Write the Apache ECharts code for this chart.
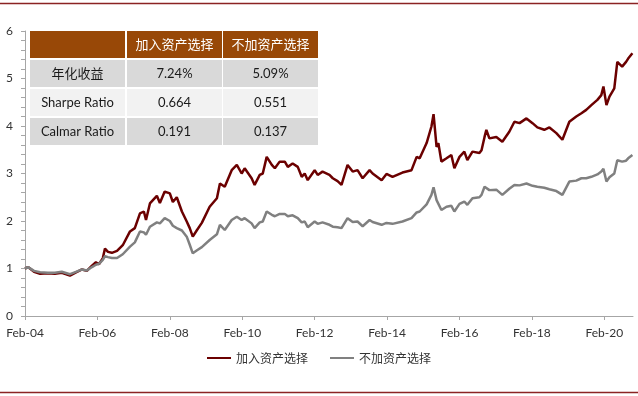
<!DOCTYPE html>
<html>
<head>
<meta charset="utf-8">
<script src="https://cdn.jsdelivr.net/npm/echarts@6/dist/echarts.min.js"></script>
<style>
html,body{margin:0;padding:0;background:#fff;}
#chart{width:638px;height:396px;}
</style>
</head>
<body>
<div id="chart"></div>
<script>
// months since Feb-2004
const months = [0,1.0,3.0,5.0,7.6,9.9,12.2,14.9,16.9,18.9,20.5,22.2,23.5,24.5,25.8,26.5,27.5,28.8,30.5,32.4,34.8,36.4,38.1,39.4,40.1,41.4,43.7,44.7,46.3,48.0,49.0,50.3,52.0,53.6,54.6,55.6,56.9,58.6,61.2,63.6,64.6,66.2,68.5,70.2,71.8,72.8,75.1,76.1,77.8,78.8,80.1,81.8,82.8,84.4,86.1,87.1,88.7,90.4,91.7,92.7,93.7,96.0,97.0,98.6,100.9,102.0,103.6,104.9,106.9,108.6,110.2,111.9,114.2,115.2,118.2,119.8,121.8,125.1,128.1,129.8,130.8,133.1,134.7,135.4,136.4,137.0,138.0,139.7,141.3,142.3,144.0,145.6,146.6,148.3,150.6,151.3,152.3,152.9,153.9,156.2,158.2,160.5,162.2,163.9,166.2,168.2,169.8,172.1,173.8,176.1,178.1,180.4,182.7,184.4,186.0,187.7,189.7,191.0,191.7,192.7,193.7,195.3,196.3,196.9,197.9,199.2,199.9,201.3];
const withSelection = [1.00,1.03,0.93,0.89,0.90,0.89,0.91,0.85,0.92,0.98,0.95,1.06,1.13,1.09,1.22,1.42,1.35,1.33,1.37,1.49,1.78,1.85,2.16,2.20,2.02,2.37,2.53,2.38,2.62,2.58,2.40,2.50,2.20,1.99,1.85,1.67,1.80,1.96,2.30,2.48,2.79,2.72,3.07,3.18,3.00,3.11,2.90,2.76,2.97,3.00,3.35,3.18,3.11,3.25,3.25,3.14,3.21,3.14,2.93,3.00,2.86,3.07,2.97,3.04,2.97,2.90,2.84,2.76,3.18,3.04,3.07,2.90,3.07,3.00,2.86,2.99,2.93,3.02,3.07,3.35,3.32,3.64,3.99,4.25,3.56,3.64,3.25,3.32,3.39,3.11,3.35,3.46,3.28,3.46,3.43,3.49,3.77,3.92,3.74,3.77,3.67,3.88,4.09,4.06,4.16,4.06,3.97,3.92,3.97,3.85,3.71,4.09,4.20,4.27,4.34,4.44,4.55,4.65,4.83,4.44,4.62,4.79,5.35,5.32,5.25,5.35,5.42,5.53];
const withoutSelection = [1.00,1.03,0.95,0.92,0.91,0.91,0.93,0.88,0.93,0.98,0.96,1.03,1.08,1.10,1.18,1.26,1.24,1.22,1.22,1.30,1.46,1.55,1.78,1.76,1.71,1.88,1.97,1.95,2.06,2.00,1.90,1.85,1.80,1.67,1.50,1.32,1.38,1.45,1.60,1.72,1.92,1.81,2.02,2.09,2.02,2.06,1.95,1.85,1.97,1.99,2.20,2.13,2.10,2.15,2.15,2.10,2.12,2.06,1.97,1.99,1.87,1.99,1.94,1.97,1.92,1.88,1.87,1.85,2.06,1.98,1.99,1.89,2.02,1.98,1.92,1.96,1.94,1.99,2.06,2.18,2.20,2.35,2.55,2.71,2.44,2.46,2.23,2.30,2.32,2.20,2.36,2.41,2.34,2.48,2.50,2.55,2.72,2.74,2.65,2.66,2.55,2.68,2.76,2.75,2.79,2.74,2.72,2.70,2.67,2.63,2.55,2.83,2.85,2.90,2.90,2.93,2.98,3.04,3.10,2.83,2.92,3.00,3.28,3.30,3.25,3.27,3.32,3.39];
const seriesNames = ['加入资产选择','不加资产选择'];
const tableHeader = ['', '加入资产选择', '不加资产选择'];
const tableRows = [
  ['年化收益','7.24%','5.09%'],
  ['Sharpe Ratio','0.664','0.551'],
  ['Calmar Ratio','0.191','0.137']
];

const chart = echarts.init(document.getElementById('chart'));
const latin = 'Lato, "Noto Sans CJK SC", sans-serif';
const cjk = '"Noto Sans CJK SC", sans-serif';

// table graphic
const colX = [30,127,223], colW = [95,95,95];
const rowY = [31,60,89,118], rowH = 27;
const rowFill = ['#984807','#D9D9D9','#F2F2F2','#D9D9D9'];
const tableEls = [];
const allRows = [tableHeader].concat(tableRows);
allRows.forEach((row,r)=>{
  row.forEach((txt,c)=>{
    tableEls.push({type:'rect',shape:{x:colX[c],y:rowY[r],width:colW[c],height:rowH},style:{fill:rowFill[r]},z:10});
    if(txt){
      const isCjk = /[\u4e00-\u9fff]/.test(txt);
      tableEls.push({type:'text',x:colX[c]+colW[c]/2,y:rowY[r]+rowH/2,z:11,
        style:{text:txt,fill:r===0?'#ffffff':'#1a1a1a',font:(isCjk?'13px '+cjk:'13px '+latin),align:'center',verticalAlign:'middle'}});
    }
  });
});
tableEls.push({type:'line',shape:{x1:0,y1:3.5,x2:638,y2:3.5},style:{stroke:'#8B2323',lineWidth:1.5},z:10});
tableEls.push({type:'line',shape:{x1:0,y1:392.5,x2:638,y2:392.5},style:{stroke:'#8B2323',lineWidth:1.5},z:10});

function pairs(vals){ return months.map((m,i)=>[m, vals[i]]); }

chart.setOption({
  animation:false,
  backgroundColor:'#ffffff',
  grid:{left:25,right:5,top:31,bottom:80,containLabel:false},
  legend:{
    data:seriesNames, bottom:27, left:'center',
    icon:'rect', itemWidth:24, itemHeight:2, itemGap:22,
    textStyle:{fontFamily:cjk,fontSize:12,color:'#333'}
  },
  xAxis:{
    type:'value', min:0, max:201.5, interval:24,
    axisLine:{lineStyle:{color:'#A6A6A6',width:1}},
    axisTick:{show:true,length:4,lineStyle:{color:'#A6A6A6'}},
    splitLine:{show:false},
    axisLabel:{color:'#333',fontFamily:latin,fontSize:12,margin:11,
      showMaxLabel:false,
      formatter:function(v){ const y = 2004 + Math.round(v/12); return 'Feb-' + String(y).slice(2); }}
  },
  yAxis:{
    type:'value', min:0, max:6, interval:1,
    axisLine:{show:true,lineStyle:{color:'#A6A6A6',width:1}},
    axisTick:{show:true,length:4,lineStyle:{color:'#A6A6A6'}},
    minorTick:{show:true,splitNumber:5,length:4,lineStyle:{color:'#A6A6A6'}},
    splitLine:{show:false},
    axisLabel:{color:'#333',fontFamily:latin,fontSize:12,margin:12}
  },
  series:[
    {name:seriesNames[0],type:'line',data:pairs(withSelection),showSymbol:false,symbol:'none',
     lineStyle:{color:'#6B0000',width:2.5},itemStyle:{color:'#6B0000'}},
    {name:seriesNames[1],type:'line',data:pairs(withoutSelection),showSymbol:false,symbol:'none',
     lineStyle:{color:'#808080',width:2.5},itemStyle:{color:'#808080'}}
  ],
  graphic:tableEls
});
</script>
</body>
</html>
